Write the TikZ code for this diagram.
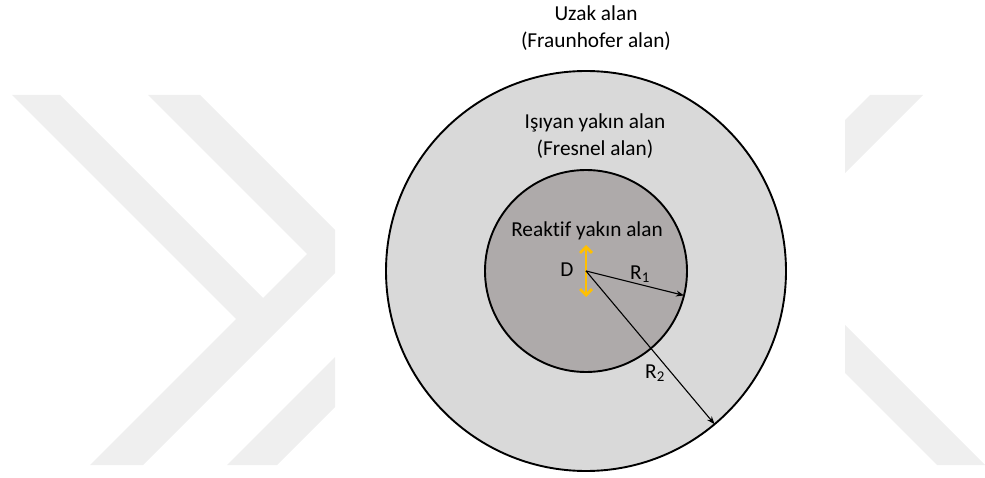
\documentclass[tikz,border=0pt]{standalone}
\usepackage{fontspec}
\setmainfont{Carlito}[Ligatures=NoCommon]
\usetikzlibrary{arrows.meta}
\definecolor{wm}{RGB}{239,239,239}
\definecolor{outerfill}{RGB}{217,217,217}
\definecolor{innerfill}{RGB}{174,170,170}
\definecolor{dorange}{RGB}{255,192,0}
\tikzset{
  zone/.style={circle, draw=black, line width=1.9pt, inner sep=0pt, outer sep=0pt},
  lbl/.style={font=\fontsize{21.3}{27}\selectfont, align=center, inner sep=0pt, text=black},
  radiusarrow/.style={draw=black, line width=1.1pt, -{Stealth[length=8pt,width=6pt]}},
  wmark/.style={fill=wm, draw=none},
  dimarrow/.style={draw=dorange, line width=2.8pt,
    {Straight Barb[length=6pt,width=12pt]}-{Straight Barb[length=6pt,width=12pt]}},
}
\begin{document}
\begin{tikzpicture}[x=1pt, y=-1pt]
  \useasboundingbox (0,0) rectangle (985,478);
  % faint watermark
  \fill[wmark] (12,95) -- (60,95) -- (263,298) -- (307,254) -- (148,95) -- (200,95)
     -- (335,230) -- (335,273) -- (143,465) -- (90,465) -- (236,319) -- cycle;
  \fill[wmark] (335,357) -- (335,407) -- (277,465) -- (227,465) -- cycle;
  \fill[wmark] (845,120) -- (870,95) -- (923,95) -- (845,173) -- cycle;
  \fill[wmark] (845,325) -- (985,465) -- (937,465) -- (845,373) -- cycle;

  % zones
  \node[zone, fill=outerfill, minimum size=400pt] (outer) at (586,271) {};
  \node[zone, fill=innerfill, minimum size=202pt] (inner) at (586,271) {};
  \coordinate (c) at (586,271);

  % antenna size D
  \coordinate (dtop) at (586,245);
  \coordinate (dbot) at (586,297);
  \draw[dimarrow] (dtop) -- (dbot);

  % radii
  \draw[radiusarrow] (c) -- (inner.-14.9);
  \draw[radiusarrow] (c) -- (outer.-50.7);

  % labels
  \node[lbl] (far) at (596,28.5) {Uzak alan\\(Fraunhofer alan)};
  \node[lbl] (fresnel) at (595,136.5) {Işıyan yakın alan\\(Fresnel alan)};
  \node[lbl] (react) at (587,231) {Reaktif yakın alan};
  \node[lbl] (dl) at (567,270) {D};
  \node[lbl] (r1) at (640,274) {R\textsubscript{1}};
  \node[lbl] (r2) at (655,373) {R\textsubscript{2}};
\end{tikzpicture}
\end{document}
